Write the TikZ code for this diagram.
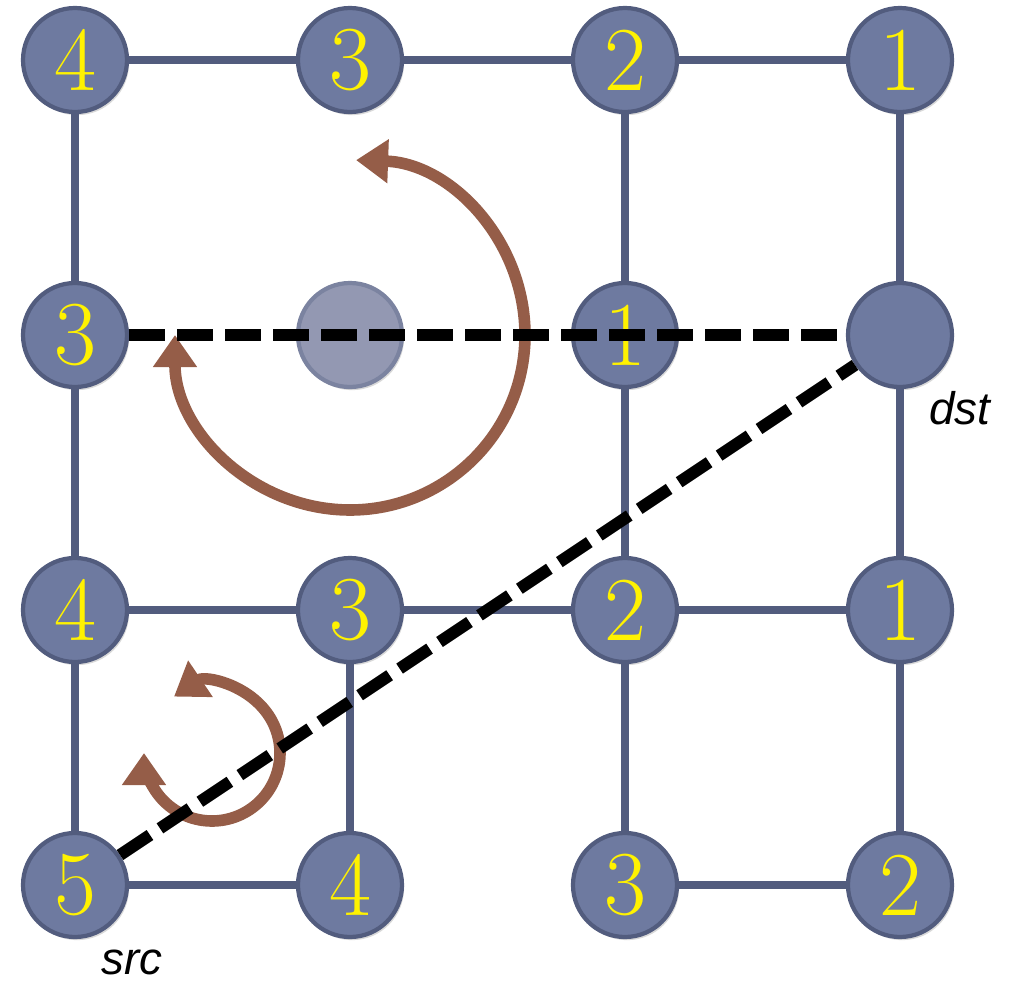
\documentclass[tikz,border=0pt]{standalone}
\usepackage{fontspec}
\newfontfamily\lblfont{Liberation Sans}
\usepackage{xcolor}
\usepackage{tikz}
\usetikzlibrary{positioning, arrows.meta, shadows}

\definecolor{ndfill}{HTML}{6E7AA0}
\definecolor{ndline}{HTML}{525C7E}
\definecolor{fdfill}{HTML}{9398B2}
\definecolor{fdline}{HTML}{7B83A0}
\definecolor{rotcol}{HTML}{955D48}

\begin{document}
\begin{tikzpicture}[
  nd/.style={circle, draw=ndline, fill=ndfill, line width=1.2pt, minimum size=1.04cm, inner sep=0pt,
    text=yellow, font=\fontsize{26}{26}\selectfont,
    drop shadow={shadow xshift=0.6pt, shadow yshift=-0.9pt, opacity=0.3}},
  fd/.style={nd, draw=fdline, fill=fdfill},
  ln/.style={draw=ndline, line width=2pt},
  dsh/.style={line width=3.4pt, dash pattern=on 0.36cm off 0.12cm},
  rot/.style={rotcol, line width=3.3pt, {Triangle[length=0.32cm, width=0.42cm]}-{Triangle[length=0.32cm, width=0.42cm]}},
  lbl/.style={font=\lblfont\itshape\fontsize{13}{13}\selectfont},
]
\useasboundingbox (0,0) rectangle (10.09,9.80);

% Top row
\node[nd] (a00) at (0.75,9.20) {4};
\node[nd] (a01) at (3.50,9.20) {3};
\node[nd] (a02) at (6.25,9.20) {2};
\node[nd] (a03) at (9.00,9.20) {1};

% Second row
\node[nd] (a10) at (0.75,6.45) {3};
\node[fd] (a11) at (3.50,6.45) {};
\node[nd] (a12) at (6.25,6.45) {1};
\node[nd] (dst) at (9.00,6.45) {};

% Third row
\node[nd] (a20) at (0.75,3.70) {4};
\node[nd] (a21) at (3.50,3.70) {3};
\node[nd] (a22) at (6.25,3.70) {2};
\node[nd] (a23) at (9.00,3.70) {1};

% Bottom row
\node[nd] (src) at (0.75,0.95) {5};
\node[nd] (a31) at (3.50,0.95) {4};
\node[nd] (a32) at (6.25,0.95) {3};
\node[nd] (a33) at (9.00,0.95) {2};

\node[lbl] (dstlbl) at (9.60,5.72) {dst};
\node[lbl] (srclbl) at (1.32,0.18) {src};

% Grid links
\draw[ln] (a00) -- (a01); \draw[ln] (a01) -- (a02); \draw[ln] (a02) -- (a03);
\draw[ln] (a20) -- (a21); \draw[ln] (a21) -- (a22); \draw[ln] (a22) -- (a23);
\draw[ln] (src) -- (a31); \draw[ln] (a32) -- (a33);
\draw[ln] (a00) -- (a10); \draw[ln] (a10) -- (a20); \draw[ln] (a20) -- (src);
\draw[ln] (a21) -- (a31);
\draw[ln] (a02) -- (a12); \draw[ln] (a12) -- (a22); \draw[ln] (a22) -- (a32);
\draw[ln] (a03) -- (dst); \draw[ln] (dst) -- (a23); \draw[ln] (a23) -- (a33);

% Rotations
\coordinate (sc) at (2.12,2.27);
\draw[rot] ([shift={(88:1.75)}]a11.center) arc[start angle=88, end angle=-180, radius=1.75];
\draw[rot] ([shift={(124:0.68)}]sc) arc[start angle=124, end angle=-180, radius=0.68];

% Dashed lines
\draw[dsh] (a10) -- (dst);
\draw[dsh] (src) -- (dst);
\end{tikzpicture}
\end{document}
